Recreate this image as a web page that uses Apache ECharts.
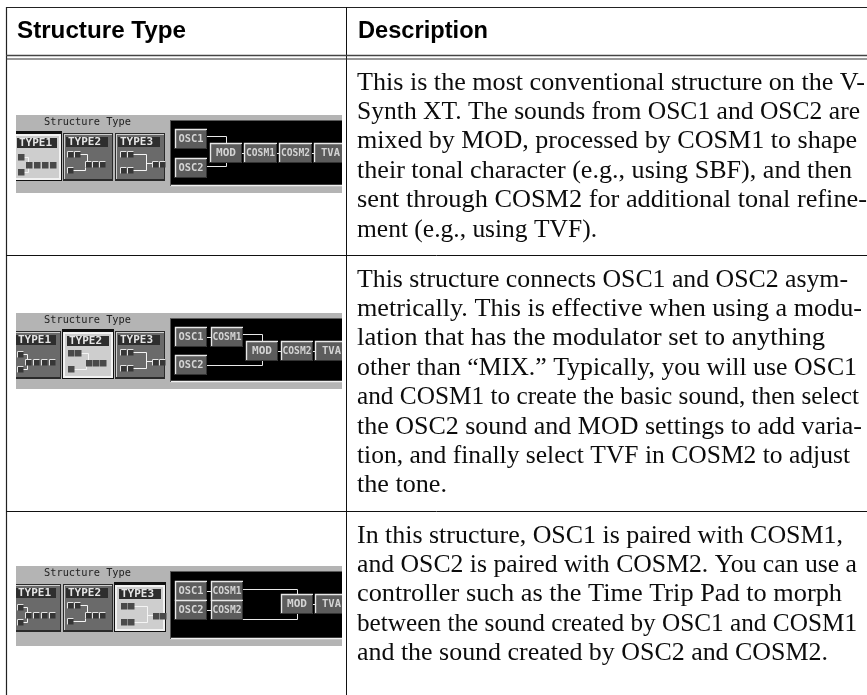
<!DOCTYPE html>
<html><head><meta charset="utf-8">
<style>html,body{margin:0;padding:0;background:#fff}#c{width:867px;height:695px}</style>
<script src="https://cdn.jsdelivr.net/npm/echarts@6/dist/echarts.min.js"></script>
</head><body><div id="c"></div>
<script>
// ---------- content ----------
const headers = ['Structure Type', 'Description'];
const descriptionRows = [
  ['This is the most conventional structure on the V-',
   'Synth XT. The sounds from OSC1 and OSC2 are',
   'mixed by MOD, processed by COSM1 to shape',
   'their tonal character (e.g., using SBF), and then',
   'sent through COSM2 for additional tonal refine-',
   'ment (e.g., using TVF).'],
  ['This structure connects OSC1 and OSC2 asym-',
   'metrically. This is effective when using a modu-',
   'lation that has the modulator set to anything',
   'other than \u201CMIX.\u201D Typically, you will use OSC1',
   'and COSM1 to create the basic sound, then select',
   'the OSC2 sound and MOD settings to add varia-',
   'tion, and finally select TVF in COSM2 to adjust',
   'the tone.'],
  ['In this structure, OSC1 is paired with COSM1,',
   'and OSC2 is paired with COSM2. You can use a',
   'controller such as the Time Trip Pad to morph',
   'between the sound created by OSC1 and COSM1',
   'and the sound created by OSC2 and COSM2.']
];
const panelTitle = 'Structure Type';
const typeLabels = ['TYPE1', 'TYPE2', 'TYPE3'];
const moduleNames = [
  ['OSC1', 'OSC2', 'MOD', 'COSM1', 'COSM2', 'TVA'],
  ['OSC1', 'COSM1', 'OSC2', 'MOD', 'COSM2', 'TVA'],
  ['OSC1', 'COSM1', 'OSC2', 'COSM2', 'MOD', 'TVA']
];

// ---------- layout ----------
const lineRightEdges = [
  [865, 860, 857, 852, 867, 597],
  [848, 862, 825, 857, 859, 862, 850, 447],
  [843, 857, 842, 857, 828]
];
const firstBaselines = [90, 287, 543];
const lineStep = 29.4;
const textLeft = 357;
const panelTops = [115, 313, 566];
const panelHeights = [78, 76, 80];
const moduleBoxes = [
  [[175,14,32,20],[175,43,32,20],[210,28,32,20],[244,28,33,20],[279,28,33,20],[314,28,32,20]],
  [[175,14,32,20],[211,14,32,20],[175,42,32,20],[246,28,32,20],[281,28,32,20],[315,28,32,20]],
  [[175,15,32,20],[211,15,32,20],[175,34,32,20],[211,34,32,20],[281,28,32,20],[315,28,32,20]]
];
const moduleWires = [
  [[[207,21.5],[226.5,21.5],[226.5,28]], [[207,51.5],[226.5,51.5],[226.5,48]], [[242,38.5],[244,38.5]], [[277,38.5],[279,38.5]], [[312,38.5],[314,38.5]]],
  [[[207,24.5],[211,24.5]], [[243,21.5],[262.5,21.5],[262.5,28]], [[207,52.5],[262.5,52.5],[262.5,48]], [[278,38.5],[281,38.5]], [[313,38.5],[315,38.5]]],
  [[[207,25.5],[211,25.5]], [[207,44.5],[211,44.5]], [[243,23.5],[297.5,23.5],[297.5,28]], [[243,53.5],[297.5,53.5],[297.5,48]], [[313,38.5],[315,38.5]]]
];
const typeButtons = [[13,48],[63,50],[115,50]];
const iconSquares = [
  [[4,20],[4,35],[12,28],[20,28],[28,28],[36,28]],
  [[4,18],[11,18],[4,34],[22,28],[29,28],[36,28]],
  [[5,18],[12,18],[5,34],[12,34],[37,28],[44,28]]
];
const iconWires = [
  [[[10,23.5],[14.5,23.5],[14.5,28]], [[10,38.5],[14.5,38.5],[14.5,34]]],
  [[[17,21.5],[24.5,21.5],[24.5,28]], [[10,37.5],[22.5,37.5],[22.5,32]]],
  [[[18,21.5],[31.5,21.5],[31.5,37.5],[18,37.5]], [[31.5,30.5],[37,30.5]]]
];
const serifFont = '25px "Liberation Serif"';
const headFont = 'bold 24px "Liberation Sans"';
const monoFont = 'bold 10px "DejaVu Sans Mono"';
const titleFont = '11px "DejaVu Sans Mono"';

// ---------- helpers ----------
const el = [];
const ctx = document.createElement('canvas').getContext('2d');
function widthOf(t, f){ ctx.font = f; return ctx.measureText(t).width; }
function rect(x,y,w,h,fill){ el.push({type:'rect',silent:true,shape:{x,y,width:w,height:h},style:{fill}}); }
function poly(points,stroke,lineWidth){ el.push({type:'polyline',silent:true,shape:{points},style:{stroke,fill:null,lineWidth:lineWidth||1}}); }
function label(t,x,midY,f,fill,targetW){
  const s = targetW ? targetW/widthOf(t,f) : 1;
  el.push({type:'text',silent:true,x,y:midY,scaleX:s,style:{text:t,x:0,y:0,font:f,fill,align:'left',verticalAlign:'middle'}});
}
function bevel(x,y,w,h,fill){
  rect(x,y,w,h,fill);
  poly([[x+.5,y+h],[x+.5,y+.5],[x+w,y+.5]],'#e8e8e8',1.4);
  poly([[x+w-.5,y+1],[x+w-.5,y+h-.5],[x,y+h-.5]],'#333',1);
}

// ---------- screenshot panels ----------
panelTops.forEach((top,r)=>{
  const ph = panelHeights[r];
  rect(16,top,326,ph,'#b4b4b4');
  label(panelTitle,44,top+7.5,titleFont,'#222',87);
  // black module area
  rect(170,top+5.5,172,ph-13,'#000');
  poly([[170,top+ph-7.5],[342,top+ph-7.5]],'#f0f0f0',1.6);
  poly([[170.5,top+ph-7],[170.5,top+6]],'#555',1);
  // type buttons
  typeButtons.forEach((b,i)=>{
    const sel = i===r, bx=b[0], bw=b[1], by=top+18;
    if(sel){
      rect(bx-1,by-2,bw+2,50,'#111');
      rect(bx,by+1,bw,46,'#f2f2f2');
      rect(bx+2,by+3,bw-4,42,'#cecece');
    } else {
      rect(bx,by,bw,48,'#2a2a2a');
      rect(bx+1,by+1,bw-2,45,'#cfcfcf');
      rect(bx+2,by+2,bw-3,44,'#6a6a6a');
    }
    const oy = sel?1:0;
    rect(bx+3+oy,by+4+oy,bw-8,10,'#2e2e2e');
    label(typeLabels[i],bx+5+oy,by+9.5+oy,monoFont,'#e6e6e6',33);
    iconWires[i].forEach(w=>poly(w.map(p=>[bx+p[0]+oy,by+p[1]+oy]),'#f4f4f4',1));
    iconSquares[i].forEach(s=>{
      const sx=bx+s[0]+oy, sy=by+s[1]+oy;
      rect(sx,sy,6.5,6.5,sel?'#4a4a4a':'#363636');
      if(!sel) poly([[sx+.5,sy+6.5],[sx+.5,sy+.5],[sx+6.5,sy+.5]],'#e4e4e4',1);
    });
  });
  // wires and modules
  moduleWires[r].forEach(w=>poly(w.map(p=>[p[0],top+p[1]]),'#e8e8e8',1));
  moduleBoxes[r].forEach((m,i)=>{
    const name = moduleNames[r][i];
    bevel(m[0],top+m[1],m[2],m[3],'#5c5c5c');
    const tw = name.length===5?29:name.length===4?25:name==='MOD'?20:19;
    const tx = name==='TVA'? m[0]+7 : m[0]+(m[2]-tw)/2;
    label(name,tx,top+m[1]+10.5,monoFont,'#d4d4d4',tw);
  });
});
// masks trimming the screenshots at their crop edges
rect(0,60,16,635,'#fff');
rect(342,60,4,451,'#fff');
rect(342,512,4,183,'#fff');

// ---------- table rules ----------
poly([[6,7.5],[867,7.5]],'#222',1.2);
poly([[6.5,7],[6.5,695]],'#222',1.2);
poly([[346.5,7],[346.5,695]],'#111',1);
poly([[6,55.5],[867,55.5]],'#444',1.4);
poly([[6,59],[867,59]],'#333',1.2);
poly([[6,255.5],[867,255.5]],'#111',1);
poly([[6,511.5],[867,511.5]],'#111',1);

// ---------- text ----------
label(headers[0],17,31,headFont,'#000',169);
label(headers[1],358,31,headFont,'#000',130);
descriptionRows.forEach((rows,r)=>rows.forEach((t,i)=>{
  const mid = firstBaselines[r]+i*lineStep-7;
  label(t,textLeft,mid,serifFont,'#0c0c0c',lineRightEdges[r][i]-textLeft);
}));

const chart = echarts.init(document.getElementById('c'),null,{renderer:'canvas'});
chart.setOption({animation:false,backgroundColor:'#fff',graphic:{elements:el}});
</script></body></html>
